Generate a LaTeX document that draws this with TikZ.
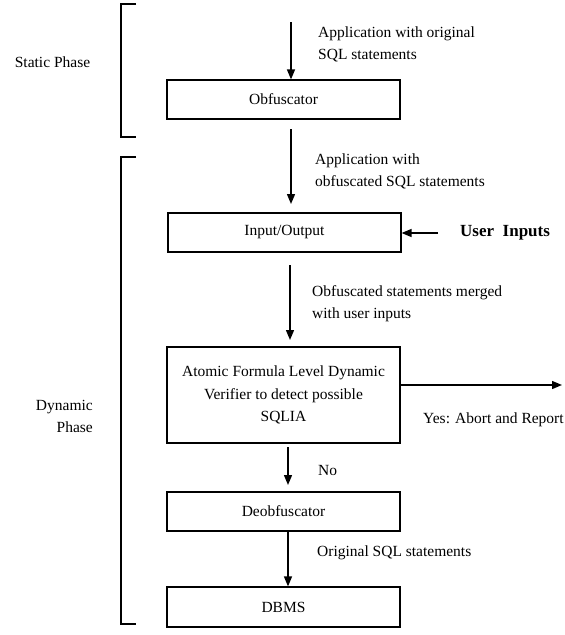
\documentclass[tikz,border=0pt]{standalone}
\usepackage{fontspec}
\setmainfont{Liberation Serif}
\usetikzlibrary{arrows.meta}
\begin{document}
\begin{tikzpicture}[x=1pt,y=-1pt,
  stage/.style={draw,line width=1.2pt,minimum width=233pt,minimum height=39pt,inner sep=0pt,font=\fontsize{15.5}{22.5}\selectfont,align=center},
  flow/.style={line width=1.4pt,-{Triangle[length=10pt,width=8pt]}},
  note/.style={font=\fontsize{15.5}{22}\selectfont,align=left,anchor=west,inner sep=0pt},
  brace/.style={line width=1.2pt}]
\useasboundingbox (0,0) rectangle (565,635);

% processing stages
\node[stage] (obf) at (283.5,99.5) {Obfuscator};
\node[stage] (io) at (284.5,232.5) {Input/Output};
\node[stage,minimum height=96pt] (ver) at (283.5,395)
  {Atomic Formula Level Dynamic\\Verifier to detect possible\\SQLIA};
\node[stage] (deo) at (283.5,511.5) {Deobfuscator};
\node[stage,minimum height=40pt] (db) at (283.5,607) {DBMS};

% free ends of the connectors
\coordinate (src) at (291,22);
\coordinate (o1) at (291,129);
\coordinate (i1) at (291,204);
\coordinate (o2) at (290,265);
\coordinate (i2) at (290,340);
\coordinate (o3) at (288,447);
\coordinate (i3) at (288,485);
\coordinate (user) at (438,233);
\coordinate (abort) at (562,385);

% connectors
\draw[flow] (src) -- (src |- obf.north);
\draw[flow] (o1) -- (i1);
\draw[flow] (o2) -- (i2);
\draw[flow] (o3) -- (i3);
\draw[flow] (288,0 |- deo.south) -- (288,0 |- db.north);
\draw[flow] (user) -- (user -| io.east);
\draw[flow] (abort -| ver.east) -- (abort);

% connector labels
\node[note] at (318,44) {Application with original\\SQL statements};
\node[note] at (315,171) {Application with\\obfuscated SQL statements};
\node[note] at (312,304) {Obfuscated statements merged\\with user inputs};
\node[note] at (423,420) {Yes: Abort and Report};
\node[note] at (318,470) {No};
\node[note] at (317,553) {Original SQL statements};
\node[note,font=\fontsize{17}{20}\selectfont\bfseries] (ui) at (460,233) {User\ \ Inputs};

% phase brackets
\draw[brace] (136,4) -- (121,4) -- (121,137) -- (136,137);
\draw[brace] (136,157) -- (121,157) -- (121,624) -- (136,624);
\node[font=\fontsize{15.5}{22}\selectfont,inner sep=0pt] (sp) at (52.5,62) {Static Phase};
\node[font=\fontsize{15.5}{22}\selectfont,align=right,inner sep=0pt,anchor=east] (dp) at (93,416) {Dynamic\\Phase};
\end{tikzpicture}
\end{document}
